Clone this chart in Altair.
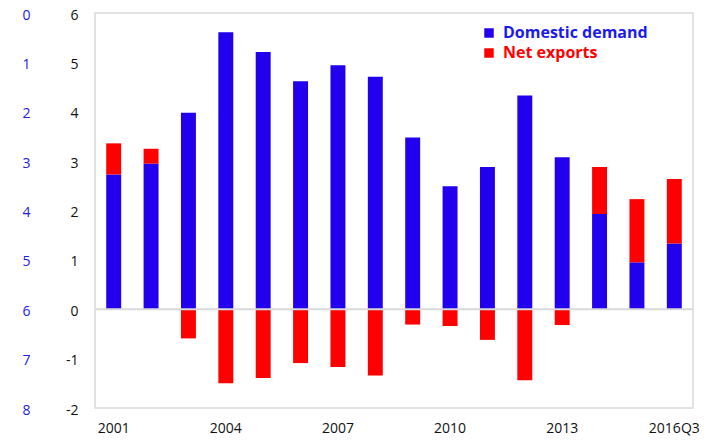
import altair as alt
import pandas as pd

periods = ["2001", "2002", "2003", "2004", "2005", "2006", "2007", "2008",
           "2009", "2010", "2011", "2012", "2013", "2014", "2015", "2016Q3"]
domestic = [2.73, 2.95, 3.98, 5.61, 5.21, 4.62, 4.94, 4.71,
            3.48, 2.49, 2.88, 4.33, 3.08, 1.93, 0.95, 1.33]
net_exports = [0.63, 0.30, -0.59, -1.50, -1.39, -1.09, -1.17, -1.34,
               -0.31, -0.34, -0.62, -1.44, -0.32, 0.95, 1.28, 1.31]
series_names = ["Domestic demand", "Net exports"]
series_colors = ["#2200EE", "#FF0000"]
x_labels_shown = ["2001", "2004", "2007", "2010", "2013", "2016Q3"]
left_ticks = [-2, -1, 0, 1, 2, 3, 4, 5, 6]
blue_ticks = [0, 1, 2, 3, 4, 5, 6, 7, 8]

rows = []
for p, d, n in zip(periods, domestic, net_exports):
    rows.append({"period": p, "series": series_names[0], "value": d, "ord": 0})
    rows.append({"period": p, "series": series_names[1], "value": n, "ord": 1})
df = pd.DataFrame(rows)

shown = "[" + ",".join("'%s'" % s for s in x_labels_shown) + "]"

bars = alt.Chart(df).mark_bar().encode(
    x=alt.X("period:N", sort=periods,
            scale=alt.Scale(paddingInner=0.6, paddingOuter=0.3),
            axis=alt.Axis(title=None, labelExpr="indexof(%s, datum.value) >= 0 ? datum.value : ''" % shown,
                          ticks=False, domain=False, labelPadding=13, labelAngle=0,
                          labelOverlap=False, labelFontSize=14, labelColor="#111111")),
    y=alt.Y("value:Q", stack="zero",
            scale=alt.Scale(domain=[-2, 6], nice=False, zero=False),
            axis=alt.Axis(title=None, values=left_ticks, ticks=False, domain=False, grid=False,
                          labelExpr="'' + datum.value",
                          labelPadding=17, labelFontSize=14, labelColor="#111111", labelOffset=2)),
    color=alt.Color("series:N",
                    scale=alt.Scale(domain=series_names, range=series_colors),
                    legend=alt.Legend(title=None, orient="none", legendX=386, legendY=12,
                                      padding=0, symbolType="square", symbolSize=90,
                                      symbolStrokeWidth=0, labelFontWeight="bold",
                                      labelFontSize=16, labelOffset=6, rowPadding=4,
                                      labelColor={"expr": "datum.label == 'Net exports' ? '#FF0000' : '#1A1AF0'"})),
    order=alt.Order("ord:Q"),
)

zero_rule = alt.Chart(pd.DataFrame({"z": [0]})).mark_rule(color="#D9D9D9", strokeWidth=2).encode(
    y=alt.Y(datum=0)
)

main = alt.layer(bars, zero_rule)

blue_axis = alt.Chart(pd.DataFrame({"b": [blue_ticks[0], blue_ticks[-1]]})).mark_point(opacity=0).encode(
    y=alt.Y("b:Q", scale=alt.Scale(domain=[0, 8], reverse=True, nice=False),
            axis=alt.Axis(orient="left", offset=67, values=blue_ticks, ticks=False, domain=False,
                          grid=False, labelAlign="center", labelPadding=2, labelColor="#2222DD",
                          labelFontSize=14, title=None, labelOffset=2))
)

chart = alt.layer(main, blue_axis).resolve_scale(y="independent").properties(
    width=598, height=395,
    autosize=alt.AutoSizeParams(type="none"),
    padding={"left": 87, "top": 5, "right": 20, "bottom": 31},
).configure(font="Open Sans").configure_view(stroke="#D9D9D9", strokeWidth=1.5)

chart.save("out.html", embed_options={"renderer": "svg", "actions": False})
